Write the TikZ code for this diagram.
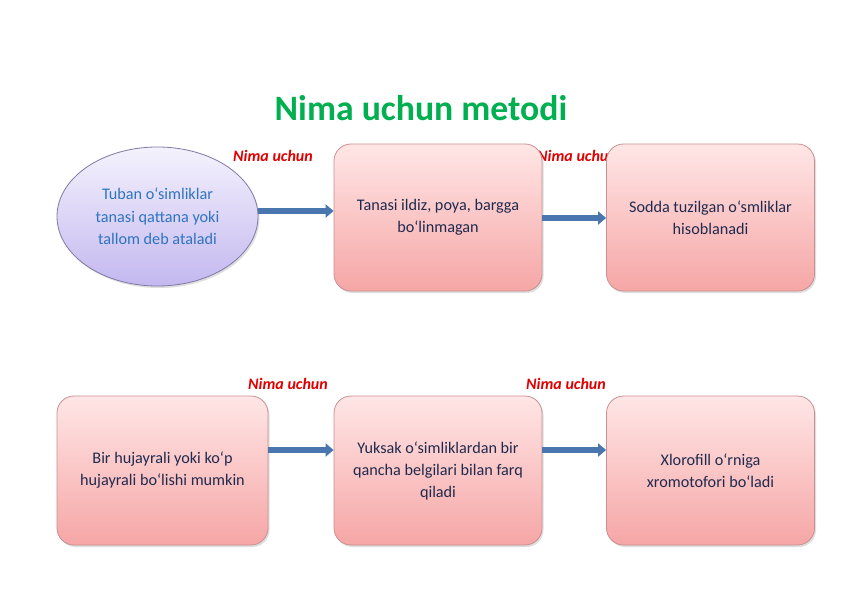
\documentclass[tikz,border=0pt]{standalone}
\usepackage{fontspec}
\setmainfont{Carlito}
\usetikzlibrary{arrows.meta,shapes.geometric,shadows}
\definecolor{ttl}{HTML}{00B050}
\definecolor{lbl}{HTML}{E00000}
\definecolor{ntxt}{HTML}{1F2A4E}
\definecolor{etxt}{HTML}{2E74C0}
\definecolor{arr}{HTML}{4A76B0}
\definecolor{pinktop}{HTML}{FFE6E6}
\definecolor{pinkbot}{HTML}{F6A6A6}
\definecolor{pinkline}{HTML}{C89090}
\definecolor{lavtop}{HTML}{F4F2FD}
\definecolor{lavbot}{HTML}{C4B8EF}
\definecolor{lavline}{HTML}{7E7AA8}
\newcommand{\gr}{\symbol{"60}}
\tikzset{
  pbox/.style={rectangle, rounded corners=17pt, draw=pinkline, line width=0.8pt,
    top color=pinktop, bottom color=pinkbot, minimum width=208pt, minimum height=147pt,
    align=center, text=ntxt, font=\fontsize{16.2}{22}\selectfont,
    drop shadow={shadow xshift=1.5pt, shadow yshift=-2pt, fill=black!25, opacity=0.5}},
  ebox/.style={ellipse, draw=lavline, line width=0.8pt, top color=lavtop, bottom color=lavbot,
    minimum width=201pt, minimum height=139pt, inner sep=0pt, align=center, text=etxt,
    font=\fontsize{16.2}{22.5}\selectfont,
    drop shadow={shadow xshift=1.5pt, shadow yshift=-2pt, fill=black!25, opacity=0.5}},
  conn/.style={draw=arr, line width=5.5pt, -{Triangle[length=8pt,width=13pt]}, shorten >=0pt},
  nlab/.style={text=lbl, font=\fontsize{16}{18}\selectfont\bfseries\itshape},
}
\begin{document}
\begin{tikzpicture}[x=1pt,y=-1pt]
\useasboundingbox (0,0) rectangle (842,596);
\fill[white] (0,0) rectangle (842,596);
\node[text=ttl, font=\fontsize{35.7}{40}\selectfont\bfseries] (title) at (421,108) {Nima uchun metodi};
% labels (drawn before boxes so box 3 covers part of one)
\node[nlab] (l1) at (273,156) {Nima uchun};
\node[nlab] (l2) at (577,156) {Nima uchun};
\node[nlab] (l3) at (288,384) {Nima uchun};
\node[nlab] (l4) at (566,384) {Nima uchun};
% row 1
\node[ebox] (e1) at (157.5,216.5) {Tuban o\gr simliklar\\tanasi qattana yoki\\tallom deb ataladi};
\node[pbox] (b2) at (438,217.5) {Tanasi ildiz, poya, bargga\\bo\gr linmagan};
\node[pbox] (b3) at (710.5,217.5) {Sodda tuzilgan o\gr smliklar\\hisoblanadi};
% row 2
\node[pbox, minimum width=211pt, minimum height=149pt] (b4) at (162.5,470.5) {Bir hujayrali yoki ko\gr p\\hujayrali bo\gr lishi mumkin};
\node[pbox, minimum height=149pt] (b5) at (438,470.5) {Yuksak o\gr simliklardan bir\\qancha belgilari bilan farq\\qiladi};
\node[pbox, minimum height=149pt] (b6) at (710.5,470.5) {Xlorofill o\gr rniga\\xromotofori bo\gr ladi};
% connectors
\draw[conn] (e1.east |- 0,211) -- (b2.west |- 0,211);
\draw[conn] (b2.east |- 0,218) -- (b3.west |- 0,218);
\draw[conn] (b4.east |- 0,450) -- (b5.west |- 0,450);
\draw[conn] (b5.east |- 0,450) -- (b6.west |- 0,450);
\end{tikzpicture}
\end{document}
